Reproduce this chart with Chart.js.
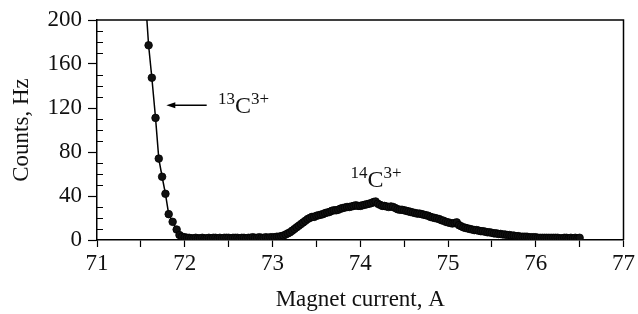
<!DOCTYPE html>
<html>
<head>
<meta charset="utf-8">
<script src="https://cdn.jsdelivr.net/npm/chart.js@4.4.1/dist/chart.umd.min.js"></script>
<style>
  body { margin: 0; background: #fff; }
  #wrap { width: 638px; height: 314px; }
</style>
</head>
<body>
<div id="wrap"><canvas id="chart" width="638" height="314"></canvas></div>
<script>
// 13C3+ peak (steep left edge), read point by point
const peak13Current = [71.55, 71.588, 71.625, 71.667, 71.704, 71.742, 71.78, 71.817, 71.862, 71.908, 71.94, 71.97];
const peak13Counts  = [222, 177, 147.5, 111, 74, 57.5, 42, 23.5, 16.5, 9.5, 4.5, 3];

// rest of the scan incl. the 14C3+ bump
const scanCurrent = [
  72.000, 72.025, 72.050, 72.075, 72.100, 72.125, 72.150, 72.175, 72.200, 72.225,
  72.250, 72.275, 72.300, 72.325, 72.350, 72.375, 72.400, 72.425, 72.450, 72.475,
  72.500, 72.525, 72.550, 72.575, 72.600, 72.625, 72.650, 72.675, 72.700, 72.725,
  72.750, 72.775, 72.800, 72.825, 72.850, 72.875, 72.900, 72.925, 72.950, 72.975,
  73.000, 73.025, 73.050, 73.075, 73.100, 73.125, 73.150, 73.175, 73.200, 73.225,
  73.250, 73.275, 73.300, 73.325, 73.350, 73.375, 73.400, 73.425, 73.450, 73.475,
  73.500, 73.525, 73.550, 73.575, 73.600, 73.625, 73.650, 73.675, 73.700, 73.725,
  73.750, 73.775, 73.800, 73.825, 73.850, 73.875, 73.900, 73.925, 73.950, 73.975,
  74.000, 74.025, 74.050, 74.075, 74.100, 74.125, 74.150, 74.175, 74.200, 74.225,
  74.250, 74.275, 74.300, 74.325, 74.350, 74.375, 74.400, 74.425, 74.450, 74.475,
  74.500, 74.525, 74.550, 74.575, 74.600, 74.625, 74.650, 74.675, 74.700, 74.725,
  74.750, 74.775, 74.800, 74.825, 74.850, 74.875, 74.900, 74.925, 74.950, 74.975,
  75.000, 75.025, 75.050, 75.075, 75.100, 75.125, 75.150, 75.175, 75.200, 75.225,
  75.250, 75.275, 75.300, 75.325, 75.350, 75.375, 75.400, 75.425, 75.450, 75.475,
  75.500, 75.525, 75.550, 75.575, 75.600, 75.625, 75.650, 75.675, 75.700, 75.725,
  75.750, 75.775, 75.800, 75.825, 75.850, 75.875, 75.900, 75.925, 75.950, 75.975,
  76.000, 76.025, 76.050, 76.075, 76.100, 76.125, 76.150, 76.175, 76.200, 76.225,
  76.250, 76.275, 76.300, 76.325, 76.350, 76.375, 76.400, 76.425, 76.450, 76.475,
  76.500
];
const scanCounts = [
  2.5, 2, 2, 1.5, 1.5, 2, 1.5, 1.5, 2, 1.5,
  1.5, 2, 1.5, 2, 2, 1.5, 2, 1.5, 2, 2,
  2, 1.5, 2, 2, 2, 1.5, 2, 2, 1.5, 2,
  2, 2.5, 2, 2, 2.5, 2, 2, 2.5, 2, 2.5,
  2.5, 2.5, 3, 3, 3.5, 4, 5, 6, 7, 8.5,
  10, 11.5, 13, 14.5, 16, 17.5, 19, 20, 21, 21,
  22, 22.5, 23, 23.5, 24.5, 25, 25.5, 26.5, 27, 27,
  27.5, 28.5, 29, 29.5, 30, 30, 30.5, 31, 31.5, 31,
  31, 31.5, 32, 32.5, 33, 33.5, 34.5, 35, 33, 32,
  31, 31, 30.5, 30, 30.5, 30, 29, 28, 27.5, 27.5,
  27, 26.5, 26, 25.5, 25, 24.5, 24, 24, 23.5, 23,
  22.5, 22, 21, 20.5, 20, 19.5, 19, 18, 17.5, 16.5,
  16, 15.5, 15, 15.5, 16, 13.5, 12.5, 11.5, 11, 10.5,
  10, 9.5, 9, 9, 8.5, 8, 8, 7.5, 7, 7,
  6.5, 6, 6, 5.5, 5.5, 5, 5, 4.5, 4.5, 4,
  4, 3.5, 3.5, 3, 3, 3, 3, 2.5, 2.5, 2.5,
  2.5, 2, 2, 2, 2, 2, 2, 2, 2, 2,
  2, 1.5, 1.5, 2, 2, 1.5, 2, 1.5, 2, 1.5,
  2
];

const xTicks = [71, 72, 73, 74, 75, 76, 77];
const yTicks = [0, 40, 80, 120, 160, 200];

const serif = "'Liberation Serif', 'DejaVu Serif', serif";

const points = peak13Current.map((x, i) => ({ x: x, y: peak13Counts[i] }))
  .concat(scanCurrent.map((x, i) => ({ x: x, y: scanCounts[i] })));

/*
* frame, inner minor ticks on y, and the two peak labels with arrow
*/
const extras = {
  id: 'extras',
  afterDraw(chart) {
    const { ctx, chartArea: a, scales: { x, y } } = chart;
    ctx.save();
    ctx.strokeStyle = '#000';
    ctx.lineWidth = 1.5;
    ctx.beginPath();
    ctx.moveTo(a.left, a.top);
    ctx.lineTo(a.right, a.top);
    ctx.lineTo(a.right, a.bottom);
    ctx.stroke();

    // minor y ticks pointing inside
    ctx.lineWidth = 1;
    for (let v = 10; v < 200; v += 10) {
      if (v % 40 === 0) continue;
      const py = Math.round(y.getPixelForValue(v)) + 0.5;
      ctx.beginPath();
      ctx.moveTo(a.left, py);
      ctx.lineTo(a.left + 6, py);
      ctx.stroke();
    }

    ctx.fillStyle = '#000';
    // arrow to 13C3+
    const ay = y.getPixelForValue(122.5);
    const ax0 = x.getPixelForValue(72.25);
    const ax1 = x.getPixelForValue(71.79);
    ctx.lineWidth = 1.3;
    ctx.beginPath();
    ctx.moveTo(ax0, ay);
    ctx.lineTo(ax1 + 6, ay);
    ctx.stroke();
    ctx.beginPath();
    ctx.moveTo(ax1, ay);
    ctx.lineTo(ax1 + 9, ay - 3);
    ctx.lineTo(ax1 + 9, ay + 3);
    ctx.closePath();
    ctx.fill();

    drawIon(ctx, '13', 'C', '3+', x.getPixelForValue(72.38), y.getPixelForValue(115.5));
    drawIon(ctx, '14', 'C', '3+', x.getPixelForValue(73.89), y.getPixelForValue(48));
    ctx.restore();
  }
};

function drawIon(ctx, mass, sym, charge, px, base) {
  ctx.textBaseline = 'alphabetic';
  ctx.textAlign = 'left';
  ctx.fillStyle = '#111';
  ctx.font = '17px ' + serif;
  ctx.fillText(mass, px, base - 9);
  let w = ctx.measureText(mass).width;
  ctx.font = '24px ' + serif;
  ctx.fillText(sym, px + w, base);
  w += ctx.measureText(sym).width;
  ctx.font = '17px ' + serif;
  ctx.fillText(charge, px + w, base - 9);
}

const ctx = document.getElementById('chart');

new Chart(ctx, {
  type: 'scatter',
  data: {
    datasets: [{
      data: points,
      showLine: true,
      borderColor: '#000',
      borderWidth: 1.5,
      pointRadius: 3.8,
      pointBackgroundColor: '#111',
      pointBorderColor: '#000',
      pointBorderWidth: 0.8
    }]
  },
  options: {
    responsive: false,
    animation: false,
    devicePixelRatio: 1,
    layout: { padding: { top: 20, right: 10, left: 0, bottom: 0 } },
    plugins: { legend: { display: false }, tooltip: { enabled: false } },
    scales: {
      x: {
        type: 'linear',
        min: 71,
        max: 77,
        afterFit: s => { s.height = 74; },
        ticks: {
          stepSize: 0.5,
          autoSkip: false,
          maxRotation: 0,
          padding: 3,
          color: '#111',
          font: { family: serif, size: 23 },
          callback: v => xTicks.includes(v) ? String(v) : ''
        },
        grid: { drawOnChartArea: false, tickLength: 7, tickColor: '#000', tickWidth: 1.2 },
        border: { color: '#000', width: 1.5 },
        title: {
          display: true,
          text: 'Magnet current, A',
          color: '#111',
          font: { family: serif, size: 23 },
          padding: { top: 1, bottom: 0 }
        }
      },
      y: {
        min: 0,
        max: 200,
        afterFit: s => { s.width = 97; },
        ticks: {
          stepSize: 10,
          autoSkip: false,
          padding: 6,
          color: '#111',
          font: { family: serif, size: 23 },
          callback: v => yTicks.includes(v) ? String(v) : ''
        },
        grid: {
          drawOnChartArea: false,
          tickLength: 9,
          tickWidth: 1.2,
          tickColor: c => yTicks.includes(c.tick.value) ? '#000' : 'rgba(0,0,0,0)'
        },
        border: { color: '#000', width: 1.5 },
        title: {
          display: true,
          text: 'Counts, Hz',
          color: '#111',
          font: { family: serif, size: 23 },
          padding: { top: 8, bottom: 0 }
        }
      }
    }
  },
  plugins: [extras]
});
</script>
</body>
</html>
